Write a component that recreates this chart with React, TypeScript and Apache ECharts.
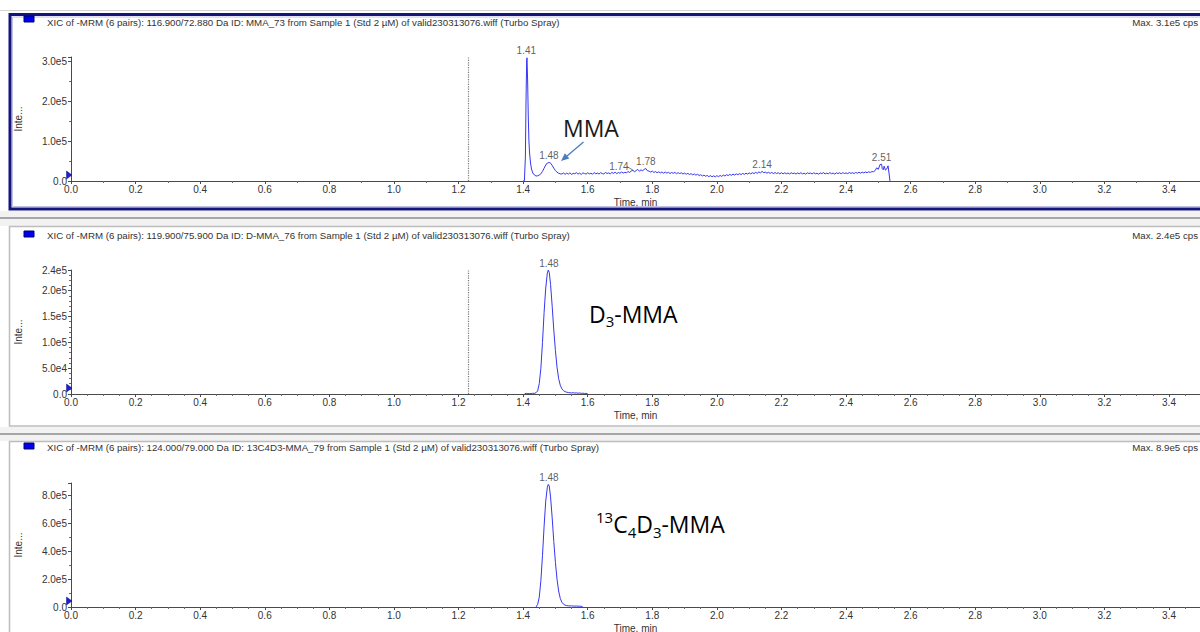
import React, { useEffect, useRef } from "react";
import * as echarts from "echarts";

// ---------------- data (intensities in kcps, time in min) ----------------
const panelTitles = [
  "XIC of -MRM (6 pairs): 116.900/72.880 Da ID: MMA_73 from Sample 1 (Std 2 µM) of valid230313076.wiff (Turbo Spray)",
  "XIC of -MRM (6 pairs): 119.900/75.900 Da ID: D-MMA_76 from Sample 1 (Std 2 µM) of valid230313076.wiff (Turbo Spray)",
  "XIC of -MRM (6 pairs): 124.000/79.000 Da ID: 13C4D3-MMA_79 from Sample 1 (Std 2 µM) of valid230313076.wiff (Turbo Spray)",
];
const panelMaxLabels = ["Max. 3.1e5 cps", "Max. 2.4e5 cps", "Max. 8.9e5 cps"];
const yMaxK = [310, 240, 890];
const yIntervalK = [100, 50, 200];
const xMax = 3.496;
const xInterval = 0.2;
const dottedMarkerTime = 1.23;

const mmaTrace: [number, number][] = [
  [1.400, 0], [1.404, 1], [1.407, 60], [1.409, 200], [1.411, 300], [1.412, 308], [1.414, 250],
  [1.416, 160], [1.418, 100], [1.420, 70], [1.423, 45], [1.426, 30], [1.430, 20], [1.435, 15],
  [1.440, 12.5], [1.445, 13], [1.450, 15], [1.455, 18], [1.460, 24], [1.465, 32], [1.470, 40],
  [1.475, 45], [1.480, 46], [1.483, 46], [1.486, 44], [1.490, 39], [1.495, 32], [1.500, 26],
  [1.505, 22], [1.510, 19.5], [1.515, 18],
  [1.520, 17.5], [1.525, 20], [1.530, 16.8], [1.535, 19.6], [1.540, 17.2], [1.545, 20.4], [1.550, 16.6],
  [1.555, 19], [1.560, 18.2], [1.565, 21], [1.570, 17], [1.575, 19.8], [1.580, 16.4], [1.585, 20.2],
  [1.590, 18.6], [1.595, 17.4], [1.600, 20.6], [1.605, 17.8], [1.610, 19.4], [1.615, 16.8], [1.620, 21.2],
  [1.625, 18], [1.630, 19.8], [1.635, 17.4], [1.640, 20.8], [1.645, 18.6], [1.650, 17.6], [1.655, 21.4],
  [1.660, 18.8], [1.665, 20.2], [1.670, 17.8], [1.675, 21.6], [1.680, 19], [1.685, 22], [1.690, 18.4],
  [1.695, 21.2], [1.700, 19.6], [1.705, 22.4], [1.710, 19.8], [1.715, 21.6], [1.720, 20.6], [1.725, 23.6],
  [1.730, 21.4], [1.735, 25], [1.740, 27], [1.745, 22.6], [1.750, 26.4], [1.755, 29], [1.760, 24.4],
  [1.765, 28], [1.770, 25.2], [1.775, 29.6], [1.780, 31], [1.785, 25.6], [1.790, 24.6], [1.795, 22.2],
  [1.800, 24.8], [1.805, 21.4], [1.810, 23.6], [1.815, 20.6], [1.820, 23], [1.825, 20.2], [1.830, 22.6],
  [1.835, 19.4], [1.840, 22.2], [1.845, 19.8], [1.850, 21.8], [1.855, 18.6], [1.860, 21.4], [1.865, 19.2],
  [1.870, 21.6], [1.875, 18.2], [1.880, 20.8], [1.885, 18.6], [1.890, 20.4], [1.895, 17.4], [1.900, 19.8],
  [1.905, 16.8], [1.910, 19.2], [1.915, 16.2], [1.920, 18.4], [1.925, 15.4], [1.930, 17.6], [1.935, 14.6],
  [1.940, 16.8], [1.945, 13.6], [1.950, 15.8], [1.955, 12.6], [1.960, 14.8], [1.965, 11.8], [1.970, 14],
  [1.975, 10.8], [1.980, 13.4], [1.985, 10.6], [1.990, 13], [1.995, 10.4], [2.000, 13.4], [2.005, 10.8],
  [2.010, 13.8], [2.015, 11.6], [2.020, 14.8], [2.025, 12.4], [2.030, 15.8], [2.035, 13.4], [2.040, 16.6],
  [2.045, 14.2], [2.050, 17.2], [2.055, 14.8], [2.060, 17.8], [2.065, 15.6], [2.070, 18.4], [2.075, 16],
  [2.080, 19], [2.085, 16.6], [2.090, 19.6], [2.095, 17.2], [2.100, 20.2], [2.105, 17.8], [2.110, 20.8],
  [2.115, 18.4], [2.120, 21.6], [2.125, 19.2], [2.130, 22.6], [2.135, 20.4], [2.140, 24], [2.145, 20.8],
  [2.150, 22], [2.155, 19.6], [2.160, 21.8], [2.165, 19], [2.170, 21.4], [2.175, 18.4], [2.180, 21],
  [2.185, 18.8], [2.190, 20.6], [2.195, 18], [2.200, 20.8], [2.205, 17.8], [2.210, 20.4], [2.215, 18.2],
  [2.220, 20], [2.225, 17.6], [2.230, 20.6], [2.235, 18.4], [2.240, 19.8], [2.245, 17.4], [2.250, 20.2],
  [2.255, 18], [2.260, 20.8], [2.265, 17.8], [2.270, 19.6], [2.275, 17.2], [2.280, 20.4], [2.285, 18.6],
  [2.290, 20], [2.295, 17.6], [2.300, 20.6], [2.305, 18.2], [2.310, 19.4], [2.315, 17], [2.320, 20.2],
  [2.325, 18.4], [2.330, 20.8], [2.335, 17.8], [2.340, 19.6], [2.345, 18], [2.350, 21], [2.355, 18.2],
  [2.360, 19.8], [2.365, 17.4], [2.370, 20.4], [2.375, 18.6], [2.380, 20.6], [2.385, 18], [2.390, 21],
  [2.395, 18.8], [2.400, 20.2], [2.405, 18.4], [2.410, 21.2], [2.415, 19], [2.420, 20.6], [2.425, 18.6],
  [2.430, 21.4], [2.435, 19.4], [2.440, 21.8], [2.445, 19.6], [2.450, 22], [2.455, 20.2], [2.460, 22.6],
  [2.465, 20.8], [2.470, 23], [2.475, 21.4], [2.480, 23.6], [2.485, 23], [2.490, 26],
  [2.495, 33], [2.500, 29], [2.505, 41], [2.510, 42], [2.512, 31],
  [2.515, 28], [2.518, 37], [2.522, 27], [2.526, 30], [2.530, 38], [2.533, 20], [2.536, 0],
];

const d3Trace: [number, number][] = [
  [1.405, 0.8], [1.410, 1.2], [1.415, 0.6], [1.420, 1], [1.425, 0.8], [1.430, 1.4], [1.435, 1.2],
  [1.440, 2.5], [1.445, 6], [1.450, 20], [1.455, 50], [1.460, 100], [1.465, 158], [1.470, 205],
  [1.475, 234], [1.478, 240], [1.481, 235], [1.485, 212], [1.490, 170], [1.495, 124], [1.500, 84],
  [1.505, 52], [1.510, 30], [1.515, 17], [1.520, 10], [1.525, 6.5], [1.530, 4.5], [1.535, 3.5],
  [1.540, 2.8], [1.545, 2.4], [1.550, 2], [1.555, 2.6], [1.560, 1.8], [1.565, 2.2], [1.570, 1.5],
  [1.575, 2], [1.580, 1.2], [1.585, 1.6], [1.590, 1], [1.595, 1.2], [1.600, 0.4],
];

const c13Trace: [number, number][] = [
  [1.440, 0], [1.445, 18], [1.450, 70], [1.455, 190], [1.460, 370], [1.465, 580], [1.470, 760],
  [1.475, 860], [1.478, 880], [1.481, 868], [1.485, 790], [1.490, 640], [1.495, 470], [1.500, 320],
  [1.505, 200], [1.510, 115], [1.515, 62], [1.520, 34], [1.525, 20], [1.530, 13], [1.535, 10],
  [1.540, 8.5], [1.545, 7.5], [1.550, 8], [1.555, 7], [1.560, 6.5], [1.565, 7], [1.570, 6],
  [1.575, 5.5], [1.580, 5], [1.585, 0],
];

const mmaPeakTimes = [1.41, 1.48, 1.74, 1.78, 2.14, 2.51];
const mmaPeakHeights = [308, 46, 27, 31, 24, 42];
const d3PeakTimes = [1.48];
const d3PeakHeights = [240];
const c13PeakTimes = [1.48];
const c13PeakHeights = [880];

// ---------------- layout ----------------
const FONT = '"Liberation Sans", Arial, sans-serif';
const BIG_FONT = '"Open Sans", "Noto Sans", sans-serif';
const GRID_LEFT = 71;
const GRID_TOPS = [57, 270, 483];
const GRID_H = 124;
const TRACE_COLOR = "#3636f2";
const TEXT_COLOR = "#333333";
const SMALL = 10;
const TITLE_SIZE = 9.7;

function sci(vK: number): string {
  const v = vK * 1000;
  if (v === 0) return "0.0";
  const e = Math.floor(Math.log10(v) + 1e-9);
  const m = v / Math.pow(10, e);
  return m.toFixed(1) + "e" + e;
}

function isMultiple(v: number, step: number) {
  const r = v / step;
  return Math.abs(r - Math.round(r)) < 1e-6;
}

export default function App() {
  const ref = useRef<HTMLDivElement>(null);

  useEffect(() => {
    document.body.style.margin = "0";
    if (!ref.current) return;
    const chart = echarts.init(ref.current, undefined, { renderer: "svg" });

    const traces = [mmaTrace, d3Trace, c13Trace];
    const peakTimes = [mmaPeakTimes, d3PeakTimes, c13PeakTimes];
    const peakHeights = [mmaPeakHeights, d3PeakHeights, c13PeakHeights];
    const xMinorSplit = [2, 4, 4];
    const yMinorSplit = [2, 5, 2];
    const showYMax = [false, true, false];

    const grids = GRID_TOPS.map((top) => ({
      left: GRID_LEFT,
      right: 0,
      top,
      height: GRID_H,
      containLabel: false,
      outerBoundsMode: "none",
    }));

    const xAxes = [0, 1, 2].map((i) => ({
      gridIndex: i,
      type: "value",
      min: 0,
      max: xMax,
      interval: xInterval,
      axisLine: { show: true, onZero: false, lineStyle: { color: "#4a4a4a", width: 1 } },
      axisTick: { show: true, length: 3, lineStyle: { color: "#4a4a4a" } },
      minorTick: { show: true, splitNumber: xMinorSplit[i], length: 2, lineStyle: { color: "#6a6a6a" } },
      splitLine: { show: false },
      minorSplitLine: { show: false },
      axisLabel: {
        fontSize: SMALL,
        fontFamily: FONT,
        color: TEXT_COLOR,
        margin: 3,
        formatter: (v: number) => (isMultiple(v, xInterval) ? v.toFixed(1) : ""),
      },
      name: "Time, min",
      nameLocation: "middle",
      nameGap: 16,
      nameTextStyle: { fontSize: SMALL, fontFamily: FONT, color: TEXT_COLOR },
    }));

    const yAxes = [0, 1, 2].map((i) => ({
      gridIndex: i,
      type: "value",
      min: 0,
      max: yMaxK[i],
      interval: yIntervalK[i],
      axisLine: { show: true, onZero: false, lineStyle: { color: "#4a4a4a", width: 1 } },
      axisTick: { show: true, length: 3, lineStyle: { color: "#4a4a4a" } },
      minorTick: { show: true, splitNumber: yMinorSplit[i], length: 2, lineStyle: { color: "#6a6a6a" } },
      splitLine: { show: false },
      minorSplitLine: { show: false },
      axisLabel: {
        fontSize: SMALL,
        fontFamily: FONT,
        color: TEXT_COLOR,
        margin: 4,
        formatter: (v: number) =>
          isMultiple(v, yIntervalK[i]) || (showYMax[i] && v === yMaxK[i]) ? sci(v) : "",
      },
      name: "Inte...",
      nameLocation: "middle",
      nameGap: 48,
      nameRotate: 90,
      nameTextStyle: { fontSize: SMALL, fontFamily: FONT, color: TEXT_COLOR },
    }));

    const series: any[] = [];
    [0, 1, 2].forEach((i) => {
      series.push({
        type: "line",
        xAxisIndex: i,
        yAxisIndex: i,
        data: traces[i],
        showSymbol: false,
        symbol: "none",
        lineStyle: { color: TRACE_COLOR, width: 1 },
        silent: true,
        z: 3,
        markLine:
          i < 2
            ? {
                silent: true,
                symbol: ["none", "none"],
                label: { show: false },
                lineStyle: { type: "dotted", color: "#7a7a7a", width: 1.2 },
                data: [{ xAxis: dottedMarkerTime }],
              }
            : undefined,
      });
      series.push({
        type: "scatter",
        xAxisIndex: i,
        yAxisIndex: i,
        symbolSize: 0,
        silent: true,
        z: 4,
        data: peakTimes[i].map((t, k) => {
          const item: any = { value: [t, peakHeights[i][k]] };
          if (i === 0 && t === 1.74) item.label = { offset: [-14, 3] };
          return item;
        }),
        label: {
          show: true,
          position: "top",
          distance: 2,
          fontSize: SMALL,
          fontFamily: FONT,
          color: TEXT_COLOR,
          formatter: (p: any) => p.value[0].toFixed(2),
        },
      });
    });

    // decorative panel frames and annotations
    const graphic: any[] = [];
    graphic.push({ type: "rect", shape: { x: 0, y: 10, width: 1200, height: 1 }, style: { fill: "#d4d4d4" }, z: -1 });
    [[211, 226, 218], [427, 441, 434]].forEach(([a, b, l]) => {
      graphic.push({ type: "rect", shape: { x: 0, y: a, width: 1200, height: b - a }, style: { fill: "#f2f2f2" }, z: -1 });
      graphic.push({ type: "rect", shape: { x: 0, y: l - 1, width: 1200, height: 2 }, style: { fill: "#a6a6a6" }, z: -1 });
    });
    graphic.push({
      type: "rect",
      shape: { x: 10, y: 14.5, width: 1300, height: 194.5 },
      style: { fill: "none", stroke: "#15157c", lineWidth: 3 },
      z: 1,
    });
    graphic.push({
      type: "rect",
      shape: { x: 12.5, y: 17, width: 1300, height: 189.5 },
      style: { fill: "none", stroke: "#c2c2e4", lineWidth: 1 },
      z: 1,
    });
    graphic.push({
      type: "rect",
      shape: { x: 9.5, y: 226.5, width: 1300, height: 199.5 },
      style: { fill: "none", stroke: "#bdbdbd", lineWidth: 1.5 },
      z: 1,
    });
    graphic.push({
      type: "rect",
      shape: { x: 9.5, y: 441.5, width: 1300, height: 300 },
      style: { fill: "none", stroke: "#bdbdbd", lineWidth: 1.5 },
      z: 1,
    });

    const titleY = [22.5, 235, 447.5];
    const squareY = [16, 231, 443];
    [0, 1, 2].forEach((i) => {
      graphic.push({
        type: "rect",
        shape: { x: 24, y: squareY[i], width: 10, height: 6 },
        style: { fill: "#0000f0", stroke: "#00006a", lineWidth: 1 },
        z: 5,
      });
      graphic.push({
        type: "text",
        x: 47,
        y: titleY[i],
        style: { text: panelTitles[i], font: `${TITLE_SIZE}px ${FONT}`, fill: TEXT_COLOR, verticalAlign: "middle", align: "left" },
        z: 5,
      });
      graphic.push({
        type: "text",
        x: 1198,
        y: titleY[i],
        style: { text: panelMaxLabels[i], font: `${TITLE_SIZE}px ${FONT}`, fill: TEXT_COLOR, verticalAlign: "middle", align: "right" },
        z: 5,
      });
      const axisY = GRID_TOPS[i] + GRID_H;
      graphic.push({
        type: "polygon",
        shape: { points: [[66.5, axisY - 10], [72, axisY - 6], [66.5, axisY - 2]] },
        style: { fill: "#1f1fcf", stroke: "#10108a", lineWidth: 0.5 },
        z: 10,
      });
    });

    graphic.push({
      type: "line",
      shape: { x1: 627, y1: 166.5, x2: 633.5, y2: 170.5 },
      style: { stroke: "#555", lineWidth: 0.8 },
      z: 6,
    });

    graphic.push({
      type: "text",
      x: 563,
      y: 128,
      style: { text: "MMA", font: `23px ${BIG_FONT}`, fill: "#1a1a1a", verticalAlign: "middle", align: "left" },
      z: 6,
    });
    graphic.push({
      type: "line",
      shape: { x1: 583.5, y1: 142, x2: 567, y2: 156 },
      style: { stroke: "#4a7cc0", lineWidth: 1.3 },
      z: 6,
    });
    graphic.push({
      type: "polygon",
      shape: { points: [[561, 161], [564.9, 153.2], [569.3, 158.6]] },
      style: { fill: "#4a7cc0" },
      z: 6,
    });

    const rich = {
      n: { fontSize: 23, fontFamily: BIG_FONT, color: "#1a1a1a", lineHeight: 30 },
      sub: { fontSize: 15, fontFamily: BIG_FONT, color: "#1a1a1a", lineHeight: 15, verticalAlign: "bottom" },
      sup: { fontSize: 15, fontFamily: BIG_FONT, color: "#1a1a1a", lineHeight: 15, verticalAlign: "top" },
    };
    graphic.push({
      type: "text",
      x: 589,
      y: 313.5,
      style: { text: "{n|D}{sub|3}{n|-MMA}", rich, verticalAlign: "middle", align: "left" },
      z: 6,
    });
    graphic.push({
      type: "text",
      x: 596,
      y: 524,
      style: { text: "{sup|13}{n|C}{sub|4}{n|D}{sub|3}{n|-MMA}", rich, verticalAlign: "middle", align: "left" },
      z: 6,
    });

    chart.setOption({
      animation: false,
      backgroundColor: "#ffffff",
      grid: grids,
      xAxis: xAxes,
      yAxis: yAxes,
      series,
      graphic,
    } as any);

    return () => chart.dispose();
  }, []);

  return <div ref={ref} style={{ width: 1200, height: 632 }} />;
}
